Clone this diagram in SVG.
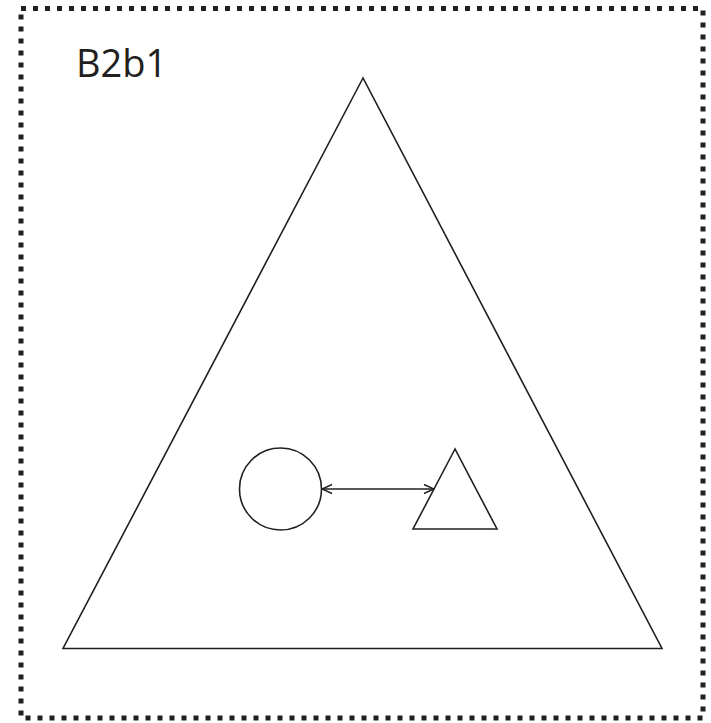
<svg xmlns="http://www.w3.org/2000/svg" width="711" height="723" viewBox="0 0 711 723">
  <style>
    .shape { fill: none; stroke: #231f20; stroke-width: 1.6; stroke-linejoin: miter; }
    .frame { fill: none; stroke: #231f20; stroke-width: 5; stroke-dasharray: 5 7; }
    .label { font-family: "Open Sans", "Noto Sans", sans-serif; font-size: 38px; fill: #231f20; }
    .conn { fill: none; stroke: #231f20; stroke-width: 1.6; }
  </style>
  <defs>
    <marker id="arr" viewBox="0 0 12 12" refX="11" refY="6" markerWidth="12" markerHeight="12" markerUnits="userSpaceOnUse" orient="auto-start-reverse">
      <path d="M1,1.5 L11,6 L1,10.5" fill="none" stroke="#231f20" stroke-width="1.4"/>
    </marker>
  </defs>
  <rect x="0" y="0" width="711" height="723" fill="#ffffff"/>
  <g id="frame">
    <rect class="frame" x="21" y="8.5" width="682" height="709.5"/>
    <text class="label" x="76" y="77">B2b1</text>
  </g>
  <g id="big-triangle">
    <polygon class="shape" points="363,78 63,648.5 662,648.5"/>
  </g>
  <g id="circle">
    <circle class="shape" cx="280.5" cy="489" r="41"/>
  </g>
  <g id="small-triangle">
    <polygon class="shape" points="455,449 413,529 497,529"/>
  </g>
  <g id="connectors">
    <line class="conn" x1="322" y1="489" x2="434" y2="489" marker-start="url(#arr)" marker-end="url(#arr)"/>
  </g>
</svg>
